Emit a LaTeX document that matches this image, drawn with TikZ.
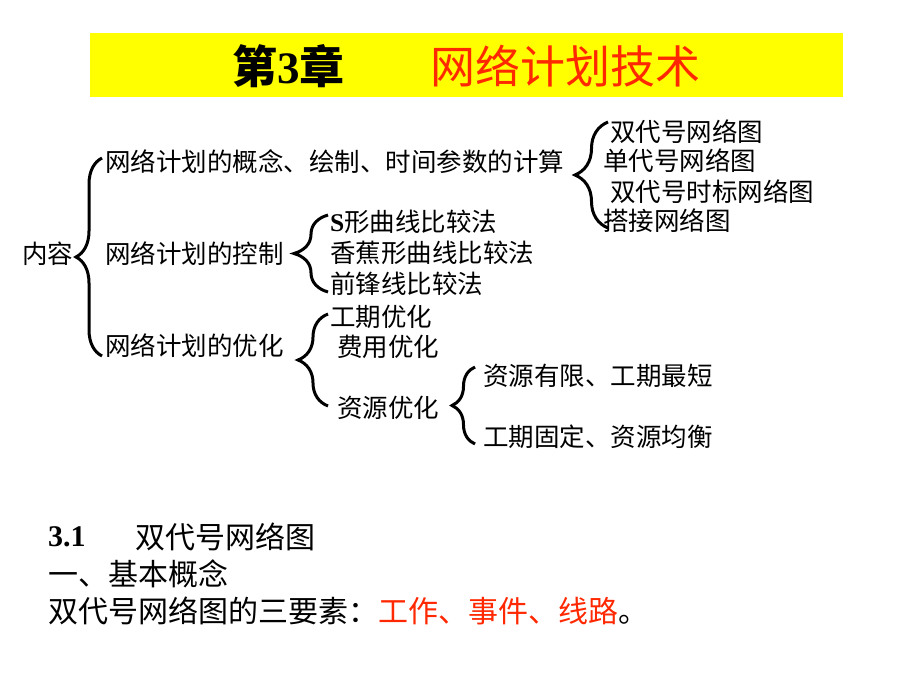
\documentclass[tikz,border=0pt]{standalone}
\usepackage{fontspec}
\setmainfont{Noto Sans CJK SC}
\newfontfamily\lat{Liberation Serif}
\usetikzlibrary{decorations.pathreplacing}
\definecolor{titlered}{RGB}{255,40,0}
\definecolor{titleyellow}{RGB}{255,255,0}
\tikzset{
  txt/.style={anchor=west, inner sep=0pt, font=\fontsize{25.5}{30}\selectfont},
  big/.style={anchor=west, inner sep=0pt, font=\fontsize{30}{36}\selectfont},
  brc/.style={decorate, decoration={brace, amplitude=#1}, line width=3pt},
}
\begin{document}
\begin{tikzpicture}[x=1pt,y=-1pt]
\useasboundingbox (0,0) rectangle (920,690);
\fill[white] (0,0) rectangle (920,690);
% title
\node[fill=titleyellow, minimum width=753pt, minimum height=64pt, inner sep=0pt, anchor=north west] (title) at (90,33) {};
\node[anchor=west, inner sep=0pt, font=\fontsize{45}{50}\selectfont\bfseries] (t1) at (232,66) {第{\lat\bfseries 3}章};
\node[anchor=west, inner sep=0pt, font=\fontsize{45}{50}\selectfont, text=titlered] (t2) at (430,66) {网络计划技术};
% tree
\node[txt] (n0) at (22,254) {内容};
\node[txt] (a1) at (105,162) {网络计划的概念、绘制、时间参数的计算};
\node[txt] (a2) at (105,254) {网络计划的控制};
\node[txt] (a3) at (105,346) {网络计划的优化};
\node[txt] (b1) at (330,222) {{\lat\bfseries S}形曲线比较法};
\node[txt] (b2) at (330,253) {香蕉形曲线比较法};
\node[txt] (b3) at (330,284) {前锋线比较法};
\node[txt] (c1) at (610,132) {双代号网络图};
\node[txt] (c2) at (603,161) {单代号网络图};
\node[txt] (c3) at (610,192) {双代号时标网络图};
\node[txt] (c4) at (603,221) {搭接网络图};
\node[txt] (d1) at (330,317) {工期优化};
\node[txt] (d2) at (337,347) {费用优化};
\node[txt] (d3) at (337,408) {资源优化};
\node[txt] (e1) at (483,376) {资源有限、工期最短};
\node[txt] (e2) at (483,437) {工期固定、资源均衡};
% braces
\draw[brc=26] (102,356) -- (102,158);
\draw[brc=34] (328,292) -- (328,215);
\draw[brc=33] (608,228) -- (608,122);
\draw[brc=30] (328,406) -- (328,314);
\draw[brc=23] (475,444) -- (475,367);
% bottom text
\node[big] (s1) at (48,537) {{\lat\bfseries 3.1}};
\node[big] (s2) at (135,537) {双代号网络图};
\node[big] (s3) at (48,574) {一、基本概念};
\node[big] (s4) at (48,611) {双代号网络图的三要素：\textcolor{titlered}{工作、事件、线路}。};
\end{tikzpicture}
\end{document}
